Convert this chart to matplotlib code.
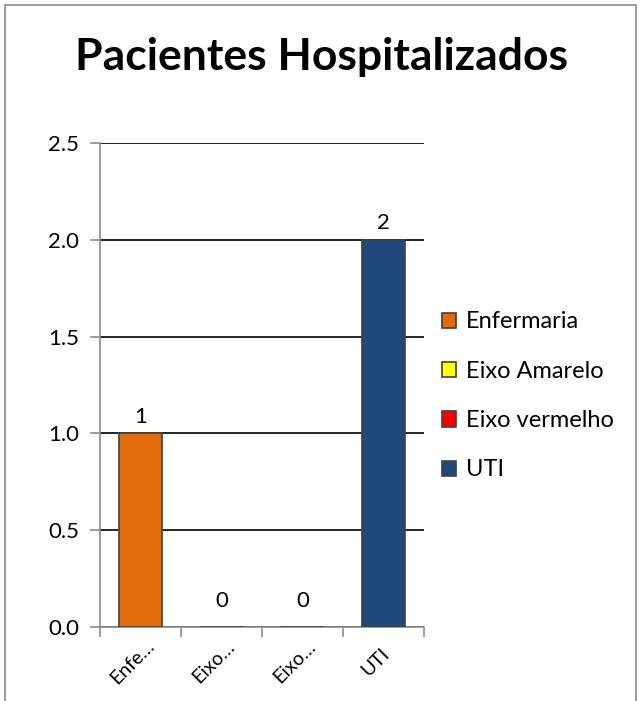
import matplotlib
matplotlib.use('Agg')
import matplotlib.pyplot as plt
import matplotlib.transforms as mtransforms
from matplotlib.patches import Patch, Rectangle

plt.rcParams['font.family'] = ['Lato', 'DejaVu Sans']

categories = ['Enfermaria', 'Eixo Amarelo', 'Eixo vermelho', 'UTI']
tick_labels = ['Enfe…', 'Eixo…', 'Eixo…', 'UTI']
values = [1, 0, 0, 2]
colors = ['#E46C0A', '#FFFF00', '#FF0000', '#1F497D']
yticks = [0.0, 0.5, 1.0, 1.5, 2.0, 2.5]

W, H = 641, 701
fig = plt.figure(figsize=(W / 100, H / 100), dpi=100)
fig.patch.set_facecolor('white')

# outer chart border (bottom edge falls outside the picture)
fig.patches.append(Rectangle((5 / W, -0.05), 631 / W, 1.05 - 5 / H,
                             transform=fig.transFigure, fill=False,
                             edgecolor='#8c8c8c', lw=1.2))

ax = fig.add_axes([100 / W, 1 - 627 / H, 324 / W, 484 / H])
x = list(range(len(categories)))
bars = ax.bar(x, values, width=0.52, color=colors, edgecolor='#404040', lw=1.2, zorder=3)

ax.set_xlim(-0.5, len(categories) - 0.5)
ax.set_ylim(0, 2.5)
ax.set_yticks(yticks)
ax.set_yticklabels([f'{v:.1f}' for v in yticks], fontsize=16)
ax.yaxis.grid(True, color='black', lw=1.2, zorder=0)

# labels centred on categories, tick marks on boundaries
ax.set_xticks(x)
ax.set_xticklabels(tick_labels, rotation=45, ha='center', va='center', fontsize=14)
ax.tick_params(axis='x', length=0, pad=25)
shift = mtransforms.ScaledTranslation(-8 / 100, 0, fig.dpi_scale_trans)
for lbl in ax.get_xticklabels():
    lbl.set_transform(lbl.get_transform() + shift)
ax.set_xticks([i - 0.5 for i in range(len(categories) + 1)], minor=True)
ax.tick_params(axis='x', which='minor', length=7, color='#8c8c8c', width=1.2)
ax.tick_params(axis='y', length=7, color='#8c8c8c', width=1.2, pad=8)

for s in ['top', 'right']:
    ax.spines[s].set_visible(False)
for s in ['left', 'bottom']:
    ax.spines[s].set_color('#8c8c8c')
    ax.spines[s].set_linewidth(1.2)

for b, v in zip(bars, values):
    off = 12 if v > 0 else 19
    ax.annotate(f'{v}', (b.get_x() + b.get_width() / 2, v), xytext=(0, off),
                textcoords='offset points', ha='center', va='center', fontsize=16)

fig.text(322 / W, 1 - 57 / H, 'Pacientes Hospitalizados', ha='center', va='center',
         fontsize=32, fontweight='bold')

handles = [Patch(facecolor=c, edgecolor='#404040', lw=1.2) for c in colors]
fig.legend(handles, categories, loc='center left', bbox_to_anchor=(430 / W, 1 - 396 / H),
           frameon=False, fontsize=17, handlelength=0.62, handleheight=0.62,
           handletextpad=0.4, labelspacing=1.2, borderpad=0)

fig.savefig('out.png', dpi=100, facecolor='white')
